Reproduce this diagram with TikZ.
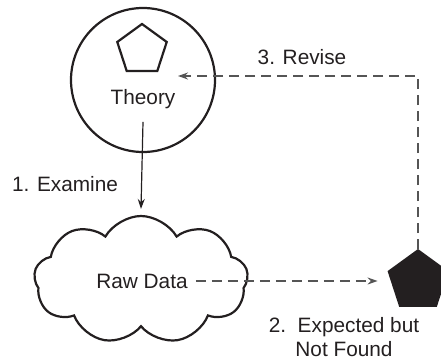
\documentclass[tikz,border=0pt]{standalone}
\usepackage{fontspec}
\setmainfont{Liberation Sans}
\usetikzlibrary{shapes.geometric,shapes.symbols,arrows.meta}
\definecolor{ink}{HTML}{231F20}
\definecolor{dash}{HTML}{555555}
\begin{document}
\begin{tikzpicture}[x=1pt,y=-1pt,
  lbl/.style={font=\fontsize{20.8}{24}\selectfont, text=ink, inner sep=0pt},
  outline/.style={draw=ink, line width=2.2pt},
  solidarrow/.style={draw=ink, line width=1.2pt, -{Stealth[length=10pt,width=7pt]}},
  dasharrow/.style={draw=dash, line width=1.5pt, dash pattern=on 10pt off 6pt, -{Stealth[length=10pt,width=7pt]}},
  pent/.style={regular polygon, regular polygon sides=5, inner sep=0pt, outer sep=0pt}]
\useasboundingbox (0,0) rectangle (441,362);
% Theory circle
\node[circle, outline, minimum size=144pt, inner sep=0pt] (theory) at (143,80) {};
\node[pent, outline, minimum size=52pt] (tpent) at (142,50) {};
\node[lbl] (theorylbl) at (143,99) {Theory};
% Cloud
\node[cloud, outline, cloud puffs=9, cloud puff arc=120, aspect=1.7, minimum width=214pt, minimum height=128pt, inner sep=0pt] (raw) at (141,280) {};
\node[lbl, inner xsep=8pt] (rawlbl) at (142,281) {Raw Data};
% black pentagon
\node[pent, fill=ink, minimum size=64pt] (bp) at (418,281) {};
\coordinate (revtip) at (178,76);
% labels
\node[lbl] (examine) at (65,184) {1. Examine};
\node[lbl] (revise) at (302,57) {3. Revise};
\node[lbl, align=center] (expected) at (344,337) {2.\ \ Expected but\\Not Found};
% connectors
\draw[solidarrow] ([yshift=-13pt]theorylbl.south) -- ([yshift=6pt]raw.north);
\draw[dasharrow] (rawlbl.east) -- ([xshift=-10pt]rawlbl.east -| bp.corner 2);
\draw[dasharrow] (bp.corner 1) |- (revtip);
\end{tikzpicture}
\end{document}
